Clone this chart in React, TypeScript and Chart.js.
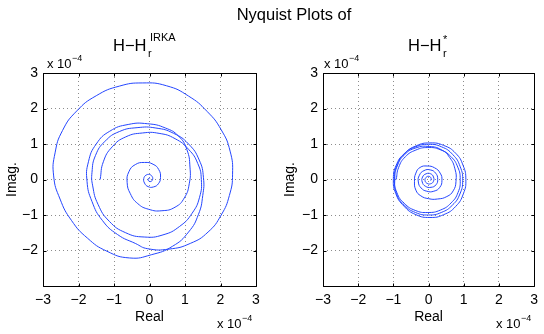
import React, { useEffect, useRef } from 'react';
import { Chart, registerables } from 'chart.js';

Chart.register(...registerables);

// Axis ticks (units of 1e-4)
const tickValues = [-3, -2, -1, 0, 1, 2, 3];

// ---- H - H_r^IRKA (x 1e-4), traced in order along the curve ----
const irkaLoop1Re = [-1.39, -1.30, -1.05, -0.67, -0.20, 0.27, 0.72, 1.10, 1.36, 1.46, 1.41, 1.20, 0.85, 0.38, -0.15, -0.67, -1.13, -1.45, -1.60];
const irkaLoop1Im = [0.00, 0.50, 0.92, 1.20, 1.31, 1.30, 1.15, 0.85, 0.45, 0.00, -0.50, -0.95, -1.32, -1.56, -1.62, -1.50, -1.18, -0.70, -0.18];
const irkaLoop2Re = [-1.62, -1.52, -1.25, -0.85, -0.35, 0.18, 0.68, 1.10, 1.40, 1.52, 1.50, 1.38, 1.10, 0.65, 0.05, -0.56];
const irkaLoop2Im = [0.20, 0.68, 1.08, 1.35, 1.46, 1.45, 1.30, 1.00, 0.55, 0.05, -0.45, -0.98, -1.48, -1.88, -2.12, -2.21];
const irkaOuterRe = [-1.20, -1.75, -2.20, -2.52, -2.70, -2.66, -2.45, -2.05, -1.50, -0.85, -0.19, 0.48, 1.10, 1.62, 2.02, 2.27, 2.34, 2.25, 2.02, 1.65, 1.15, 0.55, -0.05];
const irkaOuterIm = [-2.02, -1.65, -1.15, -0.55, 0.10, 0.75, 1.38, 1.93, 2.36, 2.63, 2.72, 2.64, 2.35, 1.92, 1.40, 0.80, 0.15, -0.45, -1.00, -1.48, -1.80, -1.96, -1.95];
const irkaInnerRe = [-0.40, -0.90, -1.33, -1.62, -1.76, -1.72, -1.50, -1.12, -0.60, -0.05, 0.45, 0.82, 1.05, 1.14, 1.12, 0.98, 0.72, 0.35, -0.02, -0.33, -0.54, -0.63, -0.58, -0.40, -0.14, 0.10, 0.26, 0.31, 0.25, 0.11, -0.04, -0.14, -0.16, -0.10, 0.00, 0.07, 0.09, 0.05, -0.01, -0.04, -0.01, 0.02];
const irkaInnerIm = [-1.80, -1.55, -1.15, -0.62, -0.05, 0.50, 1.00, 1.36, 1.55, 1.57, 1.45, 1.22, 0.85, 0.35, -0.12, -0.52, -0.78, -0.88, -0.84, -0.68, -0.40, -0.08, 0.22, 0.42, 0.48, 0.43, 0.28, 0.06, -0.12, -0.21, -0.20, -0.10, 0.03, 0.12, 0.14, 0.09, 0.01, -0.05, -0.05, 0.00, 0.04, 0.02];

// ---- H - H_r^* (x 1e-4), traced in order along the curve ----
const starLoopARe = [-0.92, -0.85, -0.66, -0.36, -0.02, 0.33, 0.63, 0.83, 0.90, 0.84, 0.64, 0.34, -0.02, -0.38, -0.69, -0.90];
const starLoopAIm = [0.00, 0.34, 0.64, 0.83, 0.90, 0.84, 0.65, 0.35, 0.00, -0.36, -0.66, -0.86, -0.93, -0.87, -0.67, -0.37];
const starLoopBRe = [-0.97, -0.90, -0.68, -0.35, 0.04, 0.43, 0.77, 0.98, 1.06, 0.99, 0.77, 0.43, 0.04, -0.36, -0.70, -0.93];
const starLoopBIm = [0.02, 0.40, 0.73, 0.95, 1.03, 0.96, 0.74, 0.40, 0.00, -0.40, -0.76, -0.99, -1.07, -0.99, -0.75, -0.40];
const starLoopCRe = [-1.00, -0.92, -0.70, -0.37, 0.00, 0.37, 0.69, 0.90, 0.97, 0.89, 0.68, 0.36, 0.00, -0.37, -0.69, -0.91];
const starLoopCIm = [0.02, 0.40, 0.72, 0.92, 0.99, 0.92, 0.70, 0.36, -0.03, -0.41, -0.72, -0.93, -1.00, -0.93, -0.72, -0.40];
const starLoopDRe = [-0.96, -0.89, -0.68, -0.36, 0.02, 0.36, 0.60, 0.75, 0.78, 0.70, 0.52, 0.25, 0.00, -0.22, -0.36, -0.40];
const starLoopDIm = [0.00, 0.38, 0.70, 0.89, 0.93, 0.84, 0.62, 0.30, -0.05, -0.32, -0.48, -0.55, -0.54, -0.46, -0.30, -0.05];
const starCoreRe = [-0.36, -0.24, -0.04, 0.17, 0.33, 0.38, 0.32, 0.15, -0.05, -0.21, -0.29, -0.26, -0.13, 0.05, 0.20, 0.26, 0.21, 0.07, -0.09, -0.18, -0.17, -0.07, 0.06, 0.14, 0.14, 0.06, -0.04, -0.10, -0.07, 0.01, 0.07, 0.06];
const starCoreIm = [0.18, 0.34, 0.38, 0.33, 0.18, -0.02, -0.22, -0.33, -0.33, -0.24, -0.07, 0.12, 0.25, 0.27, 0.18, 0.01, -0.15, -0.22, -0.19, -0.07, 0.07, 0.16, 0.16, 0.07, -0.05, -0.12, -0.11, -0.03, 0.06, 0.09, 0.04, -0.03];

const irkaRe = [...irkaLoop1Re, ...irkaLoop2Re, ...irkaOuterRe, ...irkaInnerRe];
const irkaIm = [...irkaLoop1Im, ...irkaLoop2Im, ...irkaOuterIm, ...irkaInnerIm];
const starRe = [...starLoopARe, ...starLoopBRe, ...starLoopCRe, ...starLoopDRe, ...starCoreRe];
const starIm = [...starLoopAIm, ...starLoopBIm, ...starLoopCIm, ...starLoopDIm, ...starCoreIm];

const FONT = '"Liberation Sans", Arial, Helvetica, sans-serif';
const LINE_COLOR = '#2446ff';

const fmt = (v: number) => (v < 0 ? '\u2212' + Math.abs(v) : String(v));

const boxPlugin = {
  id: 'matlabBox',
  afterDraw(chart: any) {
    const { ctx, chartArea: a, scales } = chart;
    const L = Math.round(a.left) + 0.5;
    const R = Math.round(a.right) + 0.5;
    const T = Math.round(a.top) + 0.5;
    const B = Math.round(a.bottom) + 0.5;
    ctx.save();
    ctx.strokeStyle = '#000';
    ctx.lineWidth = 1;
    ctx.setLineDash([]);
    ctx.beginPath();
    ctx.rect(L, T, R - L, B - T);
    const tl = 3;
    for (const v of tickValues) {
      const x = Math.round(scales.x.getPixelForValue(v)) + 0.5;
      ctx.moveTo(x, B); ctx.lineTo(x, B - tl);
      ctx.moveTo(x, T); ctx.lineTo(x, T + tl);
      const y = Math.round(scales.y.getPixelForValue(v)) + 0.5;
      ctx.moveTo(L, y); ctx.lineTo(L + tl, y);
      ctx.moveTo(R, y); ctx.lineTo(R - tl, y);
    }
    ctx.stroke();
    ctx.restore();
  },
};

function makeConfig(re: number[], im: number[], yAxisWidth: number, padRight: number, yTitlePad: number): any {
  const gridOpts = { color: 'rgba(0,0,0,0.45)', lineWidth: 1, drawTicks: false };
  const borderOpts = { display: false, dash: [1, 3] };
  return {
    type: 'line',
    data: {
      datasets: [
        {
          data: re.map((x, i) => ({ x, y: im[i] })),
          borderColor: LINE_COLOR,
          borderWidth: 1,
          pointRadius: 0,
          pointHoverRadius: 0,
          tension: 0.5,
          fill: false,
        },
      ],
    },
    options: {
      animation: false,
      responsive: false,
      maintainAspectRatio: false,
      layout: { padding: { left: 0, right: padRight, top: 73, bottom: 0 } },
      plugins: { legend: { display: false }, tooltip: { enabled: false }, title: { display: false } },
      scales: {
        x: {
          type: 'linear',
          min: -3,
          max: 3,
          ticks: {
            stepSize: 1,
            padding: 6,
            color: '#000',
            font: { family: FONT, size: 14 },
            maxRotation: 0,
            callback: (v: number) => fmt(v),
          },
          grid: gridOpts,
          border: borderOpts,
          title: {
            display: true,
            text: 'Real',
            color: '#000',
            font: { family: FONT, size: 14 },
            padding: { top: 0, bottom: 8 },
          },
          afterFit: (s: any) => {
            s.height = 48;
          },
        },
        y: {
          type: 'linear',
          min: -3,
          max: 3,
          ticks: {
            stepSize: 1,
            padding: 5,
            color: '#000',
            font: { family: FONT, size: 14 },
            callback: (v: number) => (v === -3 ? '' : fmt(v)),
          },
          grid: gridOpts,
          border: borderOpts,
          title: {
            display: true,
            text: 'Imag.',
            color: '#000',
            font: { family: FONT, size: 14 },
            padding: { top: yTitlePad, bottom: 0 },
          },
          afterFit: (s: any) => {
            s.width = yAxisWidth;
          },
        },
      },
    },
    plugins: [boxPlugin],
  };
}

function Txt(props: { x: number; base: number; size: number; center?: boolean; children: any }) {
  const { x, base, size, center, children } = props;
  return (
    <div
      style={{
        position: 'absolute',
        left: x,
        top: base - 0.8465 * size,
        fontSize: size,
        lineHeight: `${size}px`,
        fontFamily: FONT,
        color: '#000',
        whiteSpace: 'nowrap',
        transform: center ? 'translateX(-50%)' : undefined,
      }}
    >
      {children}
    </div>
  );
}

export default function App() {
  const leftRef = useRef<HTMLCanvasElement>(null);
  const rightRef = useRef<HTMLCanvasElement>(null);

  useEffect(() => {
    const c1 = new Chart(leftRef.current as HTMLCanvasElement, makeConfig(irkaRe, irkaIm, 43, 16, 3.6));
    const c2 = new Chart(rightRef.current as HTMLCanvasElement, makeConfig(starRe, starIm, 51, 8, 9.6));
    return () => {
      c1.destroy();
      c2.destroy();
    };
  }, []);

  return (
    <div
      style={{
        position: 'fixed',
        left: 0,
        top: 0,
        width: 544,
        height: 334,
        background: '#fff',
        overflow: 'hidden',
      }}
    >
      <canvas
        ref={leftRef}
        width={272}
        height={334}
        style={{ position: 'absolute', left: 0, top: 0, width: 272, height: 334 }}
      />
      <canvas
        ref={rightRef}
        width={272}
        height={334}
        style={{ position: 'absolute', left: 272, top: 0, width: 272, height: 334 }}
      />

      <Txt x={294} base={20} size={16.5} center>
        Nyquist Plots of
      </Txt>

      {/* left subplot title */}
      <Txt x={113} base={51} size={16.5}>H{'\u2212'}H</Txt>
      <Txt x={148} base={57} size={11}>r</Txt>
      <Txt x={150} base={41} size={11}>IRKA</Txt>

      {/* right subplot title */}
      <Txt x={408} base={51} size={16.5}>H{'\u2212'}H</Txt>
      <Txt x={443} base={57} size={11}>r</Txt>
      <Txt x={443} base={43} size={11}>*</Txt>

      {/* exponent labels */}
      <Txt x={47} base={68} size={13}>x 10</Txt>
      <Txt x={72} base={62} size={9}>{'\u2212'}4</Txt>
      <Txt x={324} base={68} size={13}>x 10</Txt>
      <Txt x={349} base={62} size={9}>{'\u2212'}4</Txt>

      <Txt x={217} base={328} size={13}>x 10</Txt>
      <Txt x={242} base={322} size={9}>{'\u2212'}4</Txt>
      <Txt x={496} base={328} size={13}>x 10</Txt>
      <Txt x={521} base={322} size={9}>{'\u2212'}4</Txt>
    </div>
  );
}
